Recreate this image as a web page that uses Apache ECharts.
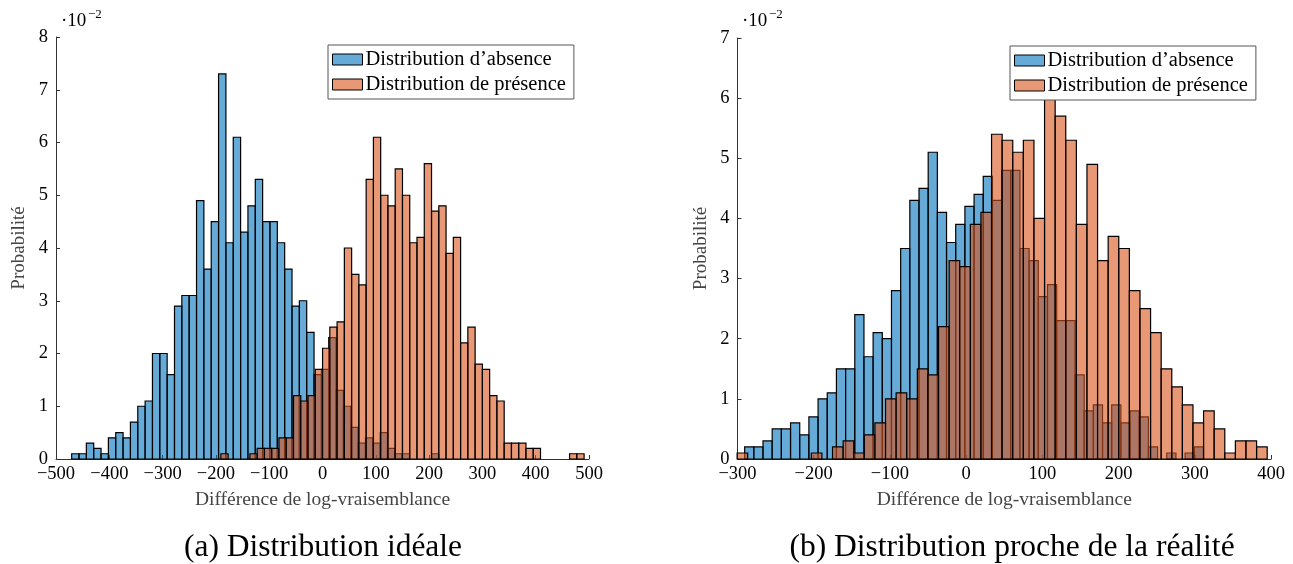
<!DOCTYPE html>
<html>
<head>
<meta charset="utf-8">
<script src="https://cdn.jsdelivr.net/npm/echarts@6/dist/echarts.min.js"></script>
<style>
  html, body { margin: 0; padding: 0; background: #fff; }
  #chart { width: 1293px; height: 564px; }
</style>
</head>
<body>
<div id="chart"></div>
<script>
// (a) distribution idéale : 50 classes par série
const absenceA = [0.1, 0.1, 0.3, 0.2, 0.1, 0.4, 0.5, 0.4, 0.7, 1.0, 1.1, 2.0, 2.0, 1.6, 2.9, 3.1, 3.1, 4.9, 3.6, 4.5,
  7.3, 4.1, 6.1, 4.3, 4.8, 5.3, 4.5, 4.5, 4.1, 3.6, 2.9, 3.0, 2.4, 1.6, 1.7, 2.3, 1.3, 1.0, 0.6, 0.3,
  0.4, 0.3, 0.5, 0.2, 0.1, 0.1, 0, 0, 0, 0.1]
const presenceA = [0.1, 0, 0, 0, 0.1, 0.2, 0.2, 0.2, 0.4, 0.4, 1.2, 1.1, 1.2, 1.7, 2.1, 2.5, 2.6, 4.0, 3.5, 3.3,
  5.3, 6.1, 5.0, 4.8, 5.5, 5.0, 4.1, 4.2, 5.6, 4.7, 4.8, 3.9, 4.2, 2.2, 2.5, 1.8, 1.7, 1.2, 1.1, 0.3,
  0.3, 0.3, 0.2, 0.2, 0, 0, 0, 0, 0.1, 0.1]
// (b) distribution proche de la réalité
const absenceB = [0.2, 0.2, 0.3, 0.5, 0.5, 0.6, 0.4, 0.7, 1.0, 1.1, 1.5, 1.5, 2.4, 1.7, 2.1, 2.0, 2.8, 3.5, 4.3, 4.5,
  5.1, 4.1, 3.6, 3.9, 4.2, 4.4, 4.7, 4.3, 4.8, 4.8, 3.5, 3.3, 2.7, 2.9, 2.3, 2.3, 1.4, 0.8, 0.9, 0.6,
  0.9, 0.6, 0.8, 0.7, 0.2, 0, 0.1, 0, 0.1, 0.2]
const presenceB = [0.1, 0, 0, 0, 0, 0, 0, 0.1, 0, 0.2, 0.3, 0.1, 0.4, 0.6, 1.0, 1.1, 1.0, 1.5, 1.4, 2.2,
  3.3, 3.2, 3.9, 4.1, 5.4, 5.3, 5.1, 5.3, 4.0, 6.0, 5.7, 5.3, 3.9, 4.9, 3.3, 3.7, 3.5, 2.8, 2.5, 2.1,
  1.5, 1.2, 0.9, 0.6, 0.8, 0.5, 0.1, 0.3, 0.3, 0.2]

// bornes des classes (début, largeur)
const binsAbsenceA = [-470.6, 13.78]
const binsPresenceA = [-190.7, 13.63]
const binsAbsenceB = [-290.6, 12.04]
const binsPresenceB = [-300.5, 13.91]

const xTicksA = [-500, 500, 100]
const xTicksB = [-300, 400, 100]
const yMaxA = 8
const yMaxB = 7

const FONT = '"Liberation Serif", "DejaVu Serif", serif'
const BLUE = 'rgba(0,114,189,0.6)'
const ORANGE = 'rgba(217,83,25,0.6)'

function toBins(values, bins) {
  return values.map((v, i) => [bins[0] + i * bins[1], bins[0] + (i + 1) * bins[1], v])
}

function renderBar(params, api) {
  const h = api.value(2)
  if (!h) return
  const p0 = api.coord([api.value(0), 0])
  const p1 = api.coord([api.value(1), h])
  return {
    type: 'rect',
    shape: { x: p0[0], y: p1[1], width: p1[0] - p0[0], height: p0[1] - p1[1] },
    style: { fill: api.visual('color'), stroke: '#000', lineWidth: 1.2 }
  }
}

function histSeries(name, values, bins, idx, color) {
  return {
    name: name,
    type: 'custom',
    xAxisIndex: idx,
    yAxisIndex: idx,
    renderItem: renderBar,
    itemStyle: { color: color, borderColor: '#000', borderWidth: 1 },
    encode: { x: [0, 1], y: 2 },
    data: toBins(values, bins)
  }
}

function xAxis(idx, ticks) {
  return {
    type: 'value', gridIndex: idx, min: ticks[0], max: ticks[1], interval: ticks[2],
    name: 'Différence de log-vraisemblance', nameLocation: 'middle', nameGap: 31,
    nameTextStyle: { fontFamily: FONT, fontSize: 19.5, color: '#444' },
    axisLine: { onZero: false, lineStyle: { color: '#333', width: 1 } },
    axisTick: { inside: true, length: 4, lineStyle: { color: '#333' } },
    axisLabel: {
      fontFamily: FONT, fontSize: 18.5, color: '#000', margin: 6,
      formatter: v => (v < 0 ? '\u2212' + (-v) : '' + v)
    },
    splitLine: { show: false }
  }
}

function yAxis(idx, max) {
  return {
    type: 'value', gridIndex: idx, min: 0, max: max, interval: 1,
    name: 'Probabilité', nameLocation: 'middle', nameGap: 27, nameRotate: 90,
    nameTextStyle: { fontFamily: FONT, fontSize: 19, color: '#444' },
    axisLine: { show: true, onZero: false, lineStyle: { color: '#333', width: 1 } },
    axisTick: { show: true, inside: true, length: 4, lineStyle: { color: '#333' } },
    axisLabel: { fontFamily: FONT, fontSize: 18.5, color: '#000', margin: 8 },
    splitLine: { show: false }
  }
}

function legend(left, top) {
  return {
    left: left, top: top, orient: 'vertical', icon: 'rect',
    itemWidth: 30, itemHeight: 11, itemGap: 4,
    padding: [4, 8, 4, 4],
    backgroundColor: '#fff', borderColor: '#555', borderWidth: 1,
    itemStyle: { borderColor: '#000', borderWidth: 1 },
    textStyle: { fontFamily: FONT, fontSize: 20.5, color: '#000', padding: [0, 0, 0, -2] },
    data: ['Distribution d\u2019absence', 'Distribution de présence']
  }
}

const chart = echarts.init(document.getElementById('chart'))
chart.setOption({
  animation: false,
  grid: [
    { left: 56, right: 704, top: 37, bottom: 105 },
    { left: 737.5, right: 22, top: 38, bottom: 105 }
  ],
  xAxis: [xAxis(0, xTicksA), xAxis(1, xTicksB)],
  yAxis: [yAxis(0, yMaxA), yAxis(1, yMaxB)],
  legend: [legend(328, 45), legend(1010, 46)],
  series: [
    histSeries('Distribution d\u2019absence', absenceA, binsAbsenceA, 0, BLUE),
    histSeries('Distribution de présence', presenceA, binsPresenceA, 0, ORANGE),
    histSeries('Distribution d\u2019absence', absenceB, binsAbsenceB, 1, BLUE),
    histSeries('Distribution de présence', presenceB, binsPresenceB, 1, ORANGE)
  ],
  graphic: [
    { type: 'text', left: 61, top: 12, style: { text: '·10', font: '19px ' + FONT, fill: '#000' } },
    { type: 'text', left: 88, top: 8, style: { text: '\u22122', font: '13px ' + FONT, fill: '#000' } },
    { type: 'text', left: 742, top: 12, style: { text: '·10', font: '19px ' + FONT, fill: '#000' } },
    { type: 'text', left: 769, top: 8, style: { text: '\u22122', font: '13px ' + FONT, fill: '#000' } },
    { type: 'text', x: 323, y: 548, style: { text: '(a) Distribution idéale', font: '31.5px ' + FONT, fill: '#000', align: 'center', verticalAlign: 'middle' } },
    { type: 'text', x: 1012, y: 548, style: { text: '(b) Distribution proche de la réalité', font: '31.5px ' + FONT, fill: '#000', align: 'center', verticalAlign: 'middle' } }
  ]
})
</script>
</body>
</html>
